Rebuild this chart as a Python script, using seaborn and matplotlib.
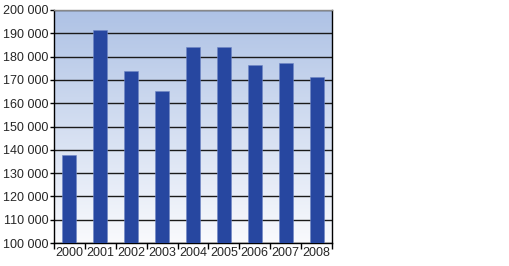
import numpy as np
import pandas as pd
import seaborn as sns
import matplotlib.pyplot as plt
from matplotlib.colors import LinearSegmentedColormap
from matplotlib.ticker import FuncFormatter, FixedLocator

years = ['2000', '2001', '2002', '2003', '2004', '2005', '2006', '2007', '2008']
values = [137800, 191500, 173800, 165200, 184000, 184100, 176300, 177400, 171200]

df = pd.DataFrame({'year': years, 'value': values})

sns.set_style('white')
plt.rcParams['font.family'] = ['Liberation Sans', 'DejaVu Sans']

fig = plt.figure(figsize=(5.10, 2.66), dpi=100)
ax = fig.add_axes([54 / 510, 1 - 243 / 266, 278 / 510, 233 / 266])

# background gradient
grad = LinearSegmentedColormap.from_list('bg', ['#f9fafd', '#aec2e5'])
ax.imshow(np.linspace(0, 1, 256).reshape(-1, 1), cmap=grad, aspect='auto',
          extent=(-0.5, len(years) - 0.5, 100000, 200000), origin='lower', zorder=0)

sns.barplot(x='year', y='value', data=df, color='#2747a0', saturation=1,
            width=0.45, ax=ax, zorder=3, edgecolor='#6f86c4', linewidth=0.4)

ax.set_xlim(-0.5, len(years) - 0.5)
ax.set_ylim(100000, 200000)
ax.set_yticks(range(100000, 200001, 10000))
ax.yaxis.set_major_formatter(FuncFormatter(lambda v, p: f'{int(v):,}'.replace(',', ' ')))
ax.yaxis.grid(True, color='#1a1a1a', linewidth=1.0, zorder=1)
ax.set_axisbelow(True)
ax.set_xlabel('')
ax.set_ylabel('')

# x ticks between categories, labels centred on bars
ax.xaxis.set_major_locator(FixedLocator(np.arange(-0.5, len(years), 1.0)))
ax.xaxis.set_major_formatter(FuncFormatter(lambda v, p: ''))
ax.xaxis.set_minor_locator(FixedLocator(np.arange(len(years))))
ax.set_xticklabels(years, minor=True)
ax.tick_params(axis='x', which='major', length=4, width=1, color='black', direction='out', bottom=True)
ax.tick_params(axis='x', which='minor', length=0, labelsize=9, pad=3)
ax.tick_params(axis='y', length=3, width=1, color='black', direction='out', left=True, labelsize=9, pad=1)

for side in ['left', 'bottom', 'right']:
    ax.spines[side].set_color('black')
    ax.spines[side].set_linewidth(1.0)
ax.spines['top'].set_color('#888888')
ax.spines['top'].set_linewidth(1.0)

plt.savefig('out.png', dpi=100)
